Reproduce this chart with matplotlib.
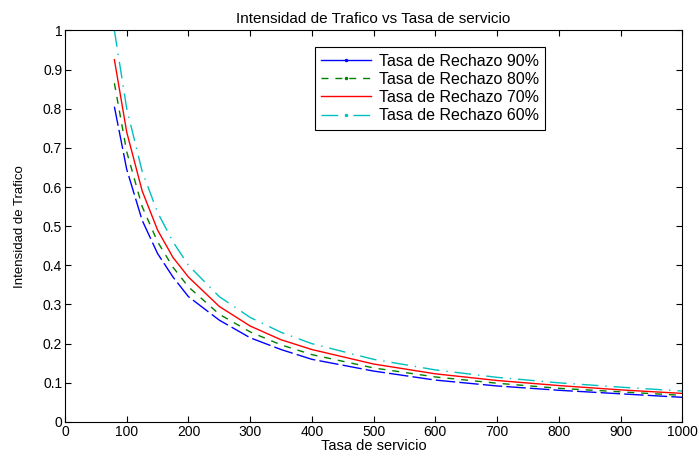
import matplotlib.pyplot as plt
from matplotlib.lines import Line2D

plt.rcParams['font.family'] = ['Liberation Sans', 'DejaVu Sans']

# tasa de servicio
tasa = [80, 100, 125, 150, 175, 200, 250, 300, 350, 400, 500, 600, 700, 800, 900, 1000]

rechazo_90 = [0.805, 0.645, 0.515, 0.43, 0.37, 0.32, 0.26, 0.215, 0.185, 0.16,
              0.13, 0.107, 0.092, 0.081, 0.072, 0.063]
rechazo_80 = [0.865, 0.69, 0.55, 0.46, 0.395, 0.345, 0.275, 0.23, 0.197, 0.172,
              0.138, 0.115, 0.099, 0.086, 0.077, 0.068]
rechazo_70 = [0.925, 0.74, 0.59, 0.49, 0.42, 0.37, 0.295, 0.245, 0.21, 0.185,
              0.148, 0.123, 0.106, 0.093, 0.082, 0.073]
rechazo_60 = [1.0, 0.8, 0.64, 0.535, 0.46, 0.40, 0.32, 0.267, 0.229, 0.2,
              0.16, 0.133, 0.114, 0.1, 0.089, 0.079]

etiquetas = ['Tasa de Rechazo 90%', 'Tasa de Rechazo 80%',
             'Tasa de Rechazo 70%', 'Tasa de Rechazo 60%']

fig = plt.figure(figsize=(6.99, 4.57), dpi=100)
ax = fig.add_axes([0.093, 0.0766, 0.883, 0.857])

ax.plot(tasa, rechazo_90, color='#0000ff', lw=1, dashes=(14, 3))
ax.plot(tasa, rechazo_80, color='#008000', lw=1, dashes=(5, 5))
ax.plot(tasa, rechazo_70, color='#ff0000', lw=1)
ax.plot(tasa, rechazo_60, color='#00bfbf', lw=1, dashes=(12, 5, 1, 5))

# manejadores de la leyenda (con punto en el centro, como en MATLAB)
handles = [
    Line2D([], [], color='#0000ff', lw=1, marker='.', markersize=3),
    Line2D([], [], color='#008000', lw=1, dashes=(5, 5), marker='.', markersize=3),
    Line2D([], [], color='#ff0000', lw=1),
    Line2D([], [], color='#00bfbf', lw=1, dashes=(12, 5, 1, 5), marker='.', markersize=3),
]

ax.set_xlim(0, 1000)
ax.set_ylim(0, 1)
ax.set_xticks(range(0, 1001, 100))
ax.set_yticks([i / 10 for i in range(11)])
ax.set_yticklabels(['0', '0.1', '0.2', '0.3', '0.4', '0.5', '0.6', '0.7', '0.8', '0.9', '1'])
ax.tick_params(direction='in', top=True, right=True, labelsize=10, length=4, pad=2)

ax.set_title('Intensidad de Trafico vs Tasa de servicio', fontsize=11, pad=5)
ax.set_xlabel('Tasa de servicio', fontsize=10.5, labelpad=0)
ax.set_ylabel('Intensidad de Trafico', fontsize=9.5, labelpad=12)

leg = ax.legend(handles, etiquetas, loc='upper left', bbox_to_anchor=(0.405, 0.957),
                borderaxespad=0, fancybox=False, edgecolor='black', framealpha=1,
                fontsize=11.5, handlelength=3.1, labelspacing=0.2, borderpad=0.4,
                handletextpad=0.5, numpoints=1)
leg.get_frame().set_linewidth(0.8)

fig.savefig('out.png', dpi=100)
